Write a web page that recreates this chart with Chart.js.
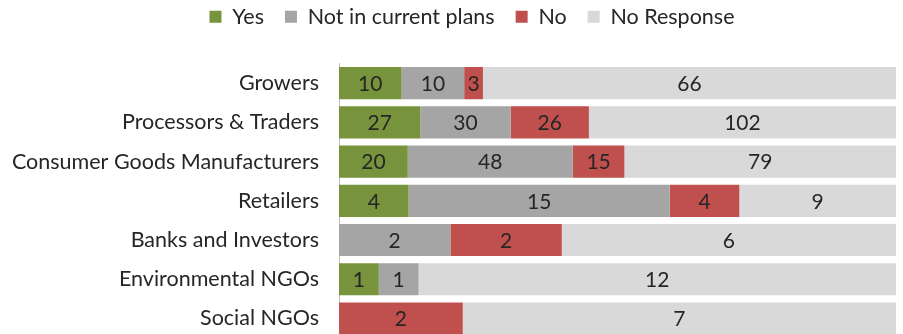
<!DOCTYPE html>
<html>
<head>
<meta charset="utf-8">
<script src="https://cdn.jsdelivr.net/npm/chart.js@4/dist/chart.umd.min.js"></script>
<style>
  html, body { margin: 0; padding: 0; background: #fff; overflow: hidden; }
  #wrap { width: 903px; height: 371px; }
</style>
</head>
<body>
<div id="wrap"><canvas id="chart" width="903" height="371"></canvas></div>
<script>
// Categories and response counts per group
const groups = ['Growers', 'Processors & Traders', 'Consumer Goods Manufacturers', 'Retailers',
  'Banks and Investors', 'Environmental NGOs', 'Social NGOs'];
const yes = [10, 27, 20, 4, 0, 1, 0];
const notInPlans = [10, 30, 48, 15, 2, 1, 0];
const no = [3, 26, 15, 4, 2, 0, 2];
const noResponse = [66, 102, 79, 9, 6, 12, 7];

const series = [
  { label: 'Yes', counts: yes, color: '#77933C' },
  { label: 'Not in current plans', counts: notInPlans, color: '#A5A5A5' },
  { label: 'No', counts: no, color: '#C0504D' },
  { label: 'No Response', counts: noResponse, color: '#D9D9D9' }
];

const totals = groups.map((_, i) => series.reduce((s, d) => s + d.counts[i], 0));

const FONT = 'Lato';
const TEXT = '#262626';

// Legend: extra gap below it, and nudged right over the bars
const legendPlace = {
  id: 'legendPlace',
  beforeInit(chart) {
    const legend = chart.legend;
    if (!legend) return;
    const fit = legend.fit;
    legend.fit = function () {
      fit.call(this);
      this.height += 26;
    };
  },
  afterLayout(chart) {
    const legend = chart.legend;
    if (!legend) return;
    legend.left += 24;
    legend.right += 24;
  }
};

// Writes the raw count in the middle of each segment
const countLabels = {
  id: 'countLabels',
  afterDatasetsDraw(chart) {
    const ctx = chart.ctx;
    ctx.save();
    ctx.font = '21px ' + FONT;
    ctx.fillStyle = TEXT;
    ctx.textAlign = 'center';
    ctx.textBaseline = 'middle';
    chart.data.datasets.forEach((ds, di) => {
      chart.getDatasetMeta(di).data.forEach((bar, i) => {
        const n = ds.counts[i];
        if (!n) return;
        const cx = (bar.x + bar.base) / 2;
        ctx.fillText(String(n), cx, bar.y + 1);
      });
    });
    ctx.restore();
  }
};

new Chart(document.getElementById('chart'), {
  type: 'bar',
  data: {
    labels: groups,
    datasets: series.map(s => ({
      label: s.label,
      counts: s.counts,
      data: s.counts.map((v, i) => v / totals[i] * 100),
      backgroundColor: s.color,
      borderWidth: 0,
      barPercentage: 0.82,
      categoryPercentage: 1
    }))
  },
  options: {
    indexAxis: 'y',
    responsive: false,
    animation: false,
    layout: { padding: { left: 0, right: 7, top: -15, bottom: 0 } },
    plugins: {
      legend: {
        position: 'top',
        labels: {
          font: { family: FONT, size: 21.5 },
          color: TEXT,
          boxWidth: 12,
          boxHeight: 12,
          padding: 21
        }
      },
      tooltip: { enabled: false }
    },
    scales: {
      x: { stacked: true, min: 0, max: 100, display: false },
      y: {
        stacked: true,
        grid: { display: false, drawTicks: false },
        border: { display: true, color: '#BFBFBF', width: 1 },
        ticks: { font: { family: FONT, size: 21.5 }, color: TEXT, padding: 20 },
        afterFit(axis) { axis.width = 339; }
      }
    }
  },
  plugins: [legendPlace, countLabels]
});
</script>
</body>
</html>
